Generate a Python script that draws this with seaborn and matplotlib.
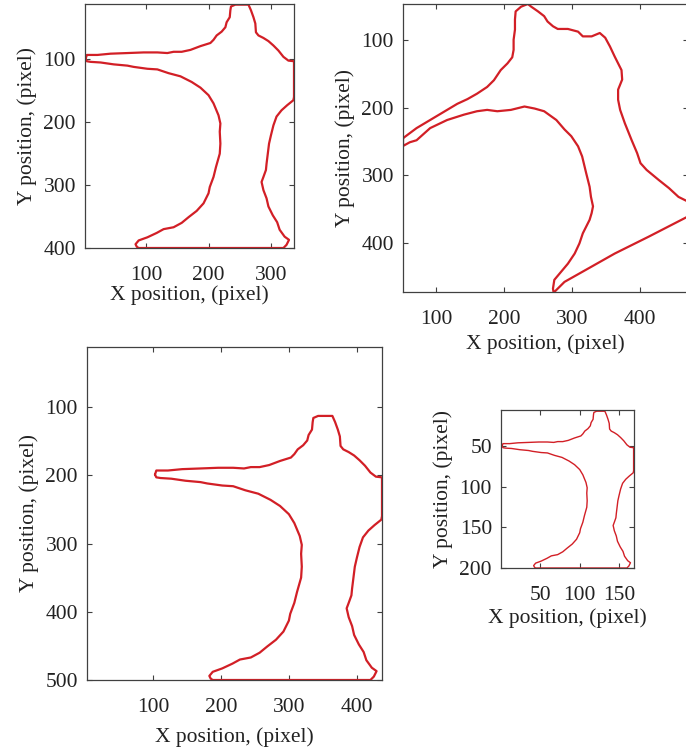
import matplotlib
matplotlib.use("Agg")
import matplotlib.pyplot as plt
import pandas as pd
import seaborn as sns

# ---------------- data (contour coordinates) ----------------
p1x = [3, 5, 22, 43, 70, 96, 118, 134, 144, 157, 171, 187, 203, 208, 213, 221, 227, 229, 234, 235,
       236, 243, 264, 268, 272, 275, 276, 280, 288, 296, 304, 312, 320, 328, 337, 337, 336, 326, 317, 309,
       304, 300, 297, 295, 293, 292, 288, 285, 288, 293, 296, 303, 310, 314, 322, 329, 325, 320, 88, 85,
       83, 88, 102, 117, 128, 144, 157, 168, 181, 192, 200, 202, 208, 212, 218, 219, 218, 219, 216, 208,
       200, 187, 173, 155, 136, 118, 102, 80, 70, 48, 27, 11, 5, 3]
p1y = [99, 93, 93, 91, 90, 89, 89, 90, 88, 88, 85, 79, 74, 69, 62, 56, 49, 41, 33, 22,
       16, 13, 13, 22, 33, 43, 57, 62, 66, 71, 78, 86, 96, 102, 103, 160, 165, 173, 181, 191,
       205, 221, 234, 250, 266, 276, 287, 295, 308, 321, 334, 348, 359, 371, 382, 387, 395, 400, 400, 398,
       394, 388, 383, 376, 370, 367, 360, 351, 341, 329, 313, 303, 287, 271, 250, 234, 215, 202, 189, 170,
       157, 145, 136, 127, 122, 116, 115, 112, 110, 108, 105, 104, 103, 99]

p2x = [51, 71, 91, 111, 131, 146, 160, 175, 185, 195, 205, 212, 214, 214, 216, 216, 217, 225, 235, 240,
       250, 259, 264, 272, 279, 294, 309, 316, 329, 341, 349, 356, 363, 373, 374, 368, 368, 371, 378, 388,
       396, 401, 410, 428, 443, 457, 471, 471, 413, 363, 319, 289, 277, 273, 272, 274, 284, 294, 304, 311,
       316, 321, 326, 329, 331, 328, 326, 321, 315, 309, 299, 289, 277, 259, 245, 230, 210, 190, 175, 160,
       141, 116, 91, 71, 61, 52, 51, 51]
p2y = [245, 230, 218, 206, 194, 187, 179, 169, 159, 144, 134, 125, 114, 99, 84, 69, 57, 50, 46, 50,
       57, 64, 72, 79, 83, 83, 87, 94, 94, 89, 96, 109, 124, 144, 158, 173, 188, 203, 223, 248,
       267, 282, 292, 307, 319, 332, 339, 361, 391, 416, 441, 458, 470, 474, 468, 455, 443, 431, 416, 401,
       386, 376, 366, 356, 346, 332, 317, 297, 272, 257, 242, 232, 218, 205, 201, 198, 203, 205, 203, 205,
       210, 218, 230, 248, 251, 256, 253, 245]

p3x = [103, 105, 122, 143, 170, 196, 218, 234, 244, 257, 271, 287, 303, 308, 313, 321, 327, 329, 334, 335,
       336, 343, 364, 368, 372, 375, 376, 380, 388, 396, 404, 412, 420, 428, 437, 437, 436, 426, 417, 409,
       404, 400, 397, 395, 393, 392, 388, 385, 388, 393, 396, 403, 410, 414, 422, 429, 425, 420, 188, 185,
       183, 188, 202, 217, 228, 244, 257, 268, 281, 292, 300, 302, 308, 312, 318, 319, 318, 319, 316, 308,
       300, 287, 273, 255, 236, 218, 202, 180, 170, 148, 127, 111, 105, 103]
p3y = [199, 193, 193, 191, 190, 189, 189, 190, 188, 188, 185, 179, 174, 169, 162, 156, 149, 141, 133, 122,
       116, 113, 113, 122, 133, 143, 157, 162, 166, 171, 178, 186, 196, 202, 203, 260, 265, 273, 281, 291,
       305, 321, 334, 350, 366, 376, 387, 395, 408, 421, 434, 448, 459, 471, 482, 487, 495, 500, 500, 498,
       494, 488, 483, 476, 470, 467, 460, 451, 441, 429, 413, 403, 387, 371, 350, 334, 315, 302, 289, 270,
       257, 245, 236, 227, 222, 216, 215, 212, 210, 208, 205, 204, 203, 199]

p4x = [1.5, 2.5, 11, 21.5, 35, 48, 59, 67, 72, 78.5, 85.5, 93.5, 101.5, 104, 106.5, 110.5, 113.5, 114.5, 117, 117.5,
       118, 121.5, 132, 134, 136, 137.5, 138, 140, 144, 148, 152, 156, 160, 164, 168.5, 168.5, 168, 163, 158.5, 154.5,
       152, 150, 148.5, 147.5, 146.5, 146, 144, 142.5, 144, 146.5, 148, 151.5, 155, 157, 161, 164.5, 162.5, 160, 44, 42.5,
       41.5, 44, 51, 58.5, 64, 72, 78.5, 84, 90.5, 96, 100, 101, 104, 106, 109, 109.5, 109, 109.5, 108, 104,
       100, 93.5, 86.5, 77.5, 68, 59, 51, 40, 35, 24, 13.5, 5.5, 2.5, 1.5]
p4y = [49.5, 46.5, 46.5, 45.5, 45, 44.5, 44.5, 45, 44, 44, 42.5, 39.5, 37, 34.5, 31, 28, 24.5, 20.5, 16.5, 11,
       8, 6.5, 6.5, 11, 16.5, 21.5, 28.5, 31, 33, 35.5, 39, 43, 48, 51, 51.5, 80, 82.5, 86.5, 90.5, 95.5,
       102.5, 110.5, 117, 125, 133, 138, 143.5, 147.5, 154, 160.5, 167, 174, 179.5, 185.5, 191, 193.5, 197.5, 200, 200, 199,
       197, 194, 191.5, 188, 185, 183.5, 180, 175.5, 170.5, 164.5, 156.5, 151.5, 143.5, 135.5, 125, 117, 107.5, 101, 94.5, 85,
       78.5, 72.5, 68, 63.5, 61, 58, 57.5, 56, 55, 54, 52.5, 52, 51.5, 49.5]

xticks1 = [100, 200, 300]
yticks1 = [100, 200, 300, 400]
xticks2 = [100, 200, 300, 400]
yticks2 = [100, 200, 300, 400]
xticks3 = [100, 200, 300, 400]
yticks3 = [100, 200, 300, 400, 500]
xticks4 = [50, 100, 150]
yticks4 = [50, 100, 150, 200]
xlabel = "X position, (pixel)"
ylabel = "Y position, (pixel)"

# ---------------- style ----------------
sns.set_style("ticks")
plt.rcParams['font.family'] = ['Liberation Serif', 'DejaVu Serif']
plt.rcParams.update({
    'xtick.direction': 'in', 'ytick.direction': 'in',
    'xtick.top': True, 'ytick.right': True,
    'xtick.major.size': 3.5, 'ytick.major.size': 3.5,
    'xtick.major.width': 0.8, 'ytick.major.width': 0.8,
    'xtick.major.pad': 13, 'ytick.major.pad': 6.5,
    'axes.edgecolor': '#404040', 'axes.linewidth': 0.9,
    'xtick.color': '#404040', 'ytick.color': '#404040',
    'xtick.labelcolor': '#222222', 'ytick.labelcolor': '#222222',
    'axes.labelcolor': '#222222',
})

W, H = 686, 749
fig = plt.figure(figsize=(W / 100, H / 100), dpi=100)
RED = '#d21f26'

panels = [
    dict(box=(85, 4, 294, 248), x=p1x, y=p1y, xlim=(2, 337), ylim=(400, 12),
         xt=xticks1, yt=yticks1, lw=1.6, xlp=0),
    dict(box=(403, 4, 688, 292), x=p2x, y=p2y, xlim=(51, 471), ylim=(473, 46),
         xt=xticks2, yt=yticks2, lw=1.6, xlp=4),
    dict(box=(87, 347, 382, 680), x=p3x, y=p3y, xlim=(3, 437), ylim=(500, 12),
         xt=xticks3, yt=yticks3, lw=1.6, xlp=7.5),
    dict(box=(501, 410, 634, 568), x=p4x, y=p4y, xlim=(0, 169), ylim=(200, 5),
         xt=xticks4, yt=yticks4, lw=1.0, xlp=2),
]

for p in panels:
    l, t, r, b = p['box']
    ax = fig.add_axes([l / W, 1 - b / H, (r - l) / W, (b - t) / H])
    df = pd.DataFrame({'x': p['x'], 'y': p['y']})
    sns.lineplot(data=df, x='x', y='y', sort=False, estimator=None, color=RED,
                 linewidth=p['lw'], ax=ax)
    ax.set_xlim(*p['xlim'])
    ax.set_ylim(*p['ylim'])
    ax.set_xticks(p['xt'])
    ax.set_yticks(p['yt'])
    ax.tick_params(labelsize=15.5)
    ax.set_xlabel(xlabel, fontsize=15.5, labelpad=p['xlp'])
    ax.set_ylabel(ylabel, fontsize=15.5, labelpad=5)

fig.savefig("out.png", dpi=100)
